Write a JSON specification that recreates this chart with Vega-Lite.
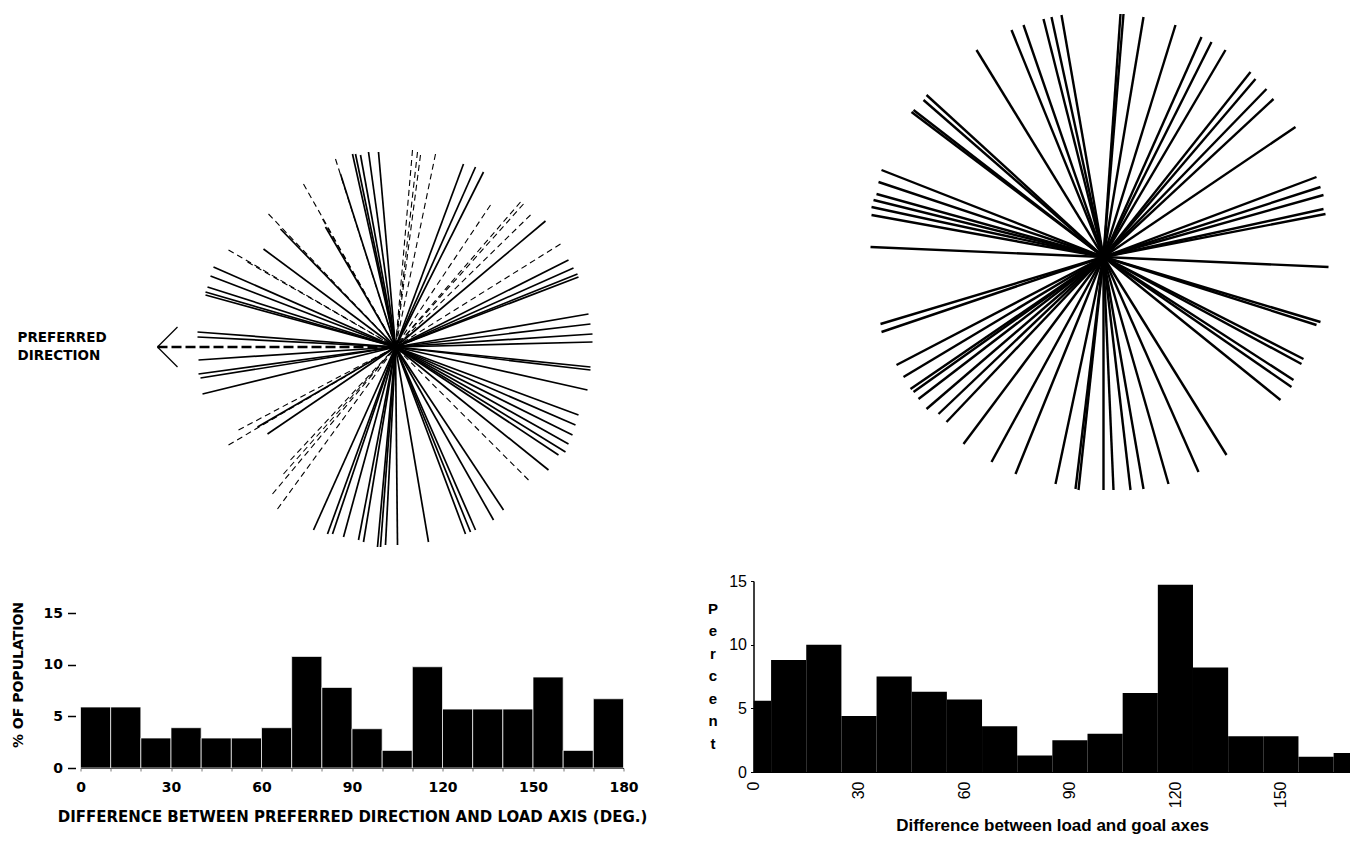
{
  "$schema": "https://vega.github.io/schema/vega-lite/v6.json",
  "autosize": {"type": "pad"},
  "padding": {"left": 10.5, "top": 0, "right": 0, "bottom": 0},
  "background": "white",
  "config": {"view": {"stroke": null}},
  "datasets": {
    "leftSolid": [
      {"dx": -43, "dy": 193}, {"dx": -40, "dy": 193}, {"dx": -35, "dy": 192}, {"dx": -27, "dy": 195}, {"dx": -17, "dy": 195},
      {"dx": -70, "dy": 120}, {"dx": -115, "dy": 118}, {"dx": -132, "dy": 98}, {"dx": -182, "dy": 80}, {"dx": -185, "dy": 71},
      {"dx": -188, "dy": 60}, {"dx": -190, "dy": 55}, {"dx": -190, "dy": 52}, {"dx": -198, "dy": 15}, {"dx": -198, "dy": 10},
      {"dx": -197, "dy": -13}, {"dx": -197, "dy": -27}, {"dx": -195, "dy": -31}, {"dx": -193, "dy": -47}, {"dx": -138, "dy": -80},
      {"dx": -128, "dy": -87}, {"dx": -82, "dy": -183}, {"dx": -68, "dy": -187}, {"dx": -63, "dy": -187}, {"dx": -52, "dy": -190},
      {"dx": -37, "dy": -193}, {"dx": -32, "dy": -195}, {"dx": -18, "dy": -200}, {"dx": -15, "dy": -200}, {"dx": -10, "dy": -198},
      {"dx": 2, "dy": -198}, {"dx": 33, "dy": -195}, {"dx": 70, "dy": -187}, {"dx": 75, "dy": -185}, {"dx": 80, "dy": -183},
      {"dx": 98, "dy": -173}, {"dx": 108, "dy": -163}, {"dx": 153, "dy": -123}, {"dx": 163, "dy": -108}, {"dx": 170, "dy": -105},
      {"dx": 173, "dy": -97}, {"dx": 177, "dy": -88}, {"dx": 180, "dy": -78}, {"dx": 183, "dy": -68}, {"dx": 192, "dy": -43},
      {"dx": 195, "dy": -23}, {"dx": 195, "dy": -20}, {"dx": 197, "dy": 5}, {"dx": 197, "dy": 13}, {"dx": 195, "dy": 23},
      {"dx": 193, "dy": 33}, {"dx": 183, "dy": 70}, {"dx": 182, "dy": 73}, {"dx": 178, "dy": 79}, {"dx": 173, "dy": 87},
      {"dx": 150, "dy": 126}, {"dx": 88, "dy": 175}, {"dx": 80, "dy": 180}, {"dx": 68, "dy": 183}, {"dx": -55, "dy": 173}
    ],
    "leftDashed": [
      {"dx": 17, "dy": 197}, {"dx": 22, "dy": 195}, {"dx": 40, "dy": 193}, {"dx": 25, "dy": 192}, {"dx": -60, "dy": 188},
      {"dx": -92, "dy": 163}, {"dx": -73, "dy": 128}, {"dx": -127, "dy": 133}, {"dx": -148, "dy": 85}, {"dx": -167, "dy": 97},
      {"dx": 125, "dy": 145}, {"dx": 128, "dy": 143}, {"dx": 95, "dy": 142}, {"dx": 165, "dy": 103}, {"dx": 135, "dy": 132},
      {"dx": -157, "dy": -83}, {"dx": -167, "dy": -98}, {"dx": -118, "dy": -162}, {"dx": -123, "dy": -147}, {"dx": -105, "dy": -113},
      {"dx": 133, "dy": -133}, {"dx": -112, "dy": -127}
    ],
    "arrowShaft": [{"dx": -238, "dy": 0, "dx2": 0, "dy2": 0}],
    "arrowHead": [
      {"dx": -238, "dy": 0, "dx2": -218, "dy2": 20},
      {"dx": -238, "dy": 0, "dx2": -218, "dy2": -20}
    ],
    "arrowLabel": [
      {"dx": -378, "dy": 9, "text": "PREFERRED"},
      {"dx": -378, "dy": -9, "text": "DIRECTION"}
    ],
    "rightRays": [
      {"dx": -127, "dy": 207}, {"dx": -92, "dy": 227}, {"dx": -80, "dy": 232}, {"dx": -60, "dy": 238}, {"dx": -52, "dy": 240},
      {"dx": -42, "dy": 242}, {"dx": 17, "dy": 243}, {"dx": 20, "dy": 243}, {"dx": 40, "dy": 240}, {"dx": 72, "dy": 232},
      {"dx": 98, "dy": 220}, {"dx": 108, "dy": 215}, {"dx": 122, "dy": 207}, {"dx": 147, "dy": 185}, {"dx": 152, "dy": 178},
      {"dx": 163, "dy": 168}, {"dx": 170, "dy": 158}, {"dx": 192, "dy": 130}, {"dx": 213, "dy": 80}, {"dx": 217, "dy": 70},
      {"dx": 220, "dy": 62}, {"dx": 220, "dy": 48}, {"dx": 222, "dy": 43}, {"dx": 225, "dy": -10}, {"dx": 217, "dy": -65},
      {"dx": 213, "dy": -68}, {"dx": 200, "dy": -102}, {"dx": 198, "dy": -107}, {"dx": 190, "dy": -123}, {"dx": 188, "dy": -130},
      {"dx": 177, "dy": -143}, {"dx": 123, "dy": -198}, {"dx": 95, "dy": -215}, {"dx": 65, "dy": -227}, {"dx": 40, "dy": -232},
      {"dx": 27, "dy": -233}, {"dx": 10, "dy": -233}, {"dx": 0, "dy": -233}, {"dx": -25, "dy": -233}, {"dx": -28, "dy": -232},
      {"dx": -48, "dy": -227}, {"dx": -88, "dy": -217}, {"dx": -112, "dy": -205}, {"dx": -140, "dy": -187}, {"dx": -157, "dy": -165},
      {"dx": -165, "dy": -157}, {"dx": -177, "dy": -152}, {"dx": -185, "dy": -142}, {"dx": -190, "dy": -135}, {"dx": -193, "dy": -132},
      {"dx": -200, "dy": -120}, {"dx": -207, "dy": -108}, {"dx": -223, "dy": -67}, {"dx": -222, "dy": -75}, {"dx": -233, "dy": 10},
      {"dx": -232, "dy": 42}, {"dx": -232, "dy": 50}, {"dx": -230, "dy": 57}, {"dx": -227, "dy": 63}, {"dx": -225, "dy": 75},
      {"dx": -222, "dy": 87}, {"dx": -192, "dy": 145}, {"dx": -190, "dy": 147}, {"dx": -180, "dy": 157}, {"dx": -177, "dy": 162}
    ],
    "leftHist": [
      {"start": 0, "end": 10, "pct": 5.9}, {"start": 10, "end": 20, "pct": 5.9}, {"start": 20, "end": 30, "pct": 2.9},
      {"start": 30, "end": 40, "pct": 3.9}, {"start": 40, "end": 50, "pct": 2.9}, {"start": 50, "end": 60, "pct": 2.9},
      {"start": 60, "end": 70, "pct": 3.9}, {"start": 70, "end": 80, "pct": 10.8}, {"start": 80, "end": 90, "pct": 7.8},
      {"start": 90, "end": 100, "pct": 3.8}, {"start": 100, "end": 110, "pct": 1.7}, {"start": 110, "end": 120, "pct": 9.8},
      {"start": 120, "end": 130, "pct": 5.7}, {"start": 130, "end": 140, "pct": 5.7}, {"start": 140, "end": 150, "pct": 5.7},
      {"start": 150, "end": 160, "pct": 8.8}, {"start": 160, "end": 170, "pct": 1.7}, {"start": 170, "end": 180, "pct": 6.7}
    ],
    "rightHist": [
      {"start": 0, "end": 5, "pct": 5.6}, {"start": 5, "end": 15, "pct": 8.8}, {"start": 15, "end": 25, "pct": 10.0},
      {"start": 25, "end": 35, "pct": 4.4}, {"start": 35, "end": 45, "pct": 7.5}, {"start": 45, "end": 55, "pct": 6.3},
      {"start": 55, "end": 65, "pct": 5.7}, {"start": 65, "end": 75, "pct": 3.6}, {"start": 75, "end": 85, "pct": 1.3},
      {"start": 85, "end": 95, "pct": 2.5}, {"start": 95, "end": 105, "pct": 3.0}, {"start": 105, "end": 115, "pct": 6.2},
      {"start": 115, "end": 125, "pct": 14.7}, {"start": 125, "end": 135, "pct": 8.2}, {"start": 135, "end": 145, "pct": 2.8},
      {"start": 145, "end": 155, "pct": 2.8}, {"start": 155, "end": 165, "pct": 1.2}, {"start": 165, "end": 175, "pct": 1.5}
    ]
  },
  "bounds": "flush",
  "columns": 2,
  "spacing": {"row": 11, "column": 130},
  "concat": [
    {
      "width": 543,
      "height": 570,
      "layer": [
        {
          "data": {"name": "leftDashed"},
          "mark": {"type": "rule", "color": "black", "strokeWidth": 1.1, "strokeDash": [6, 4]},
          "encoding": {
            "x": {"field": "dx", "type": "quantitative", "scale": {"domain": [-315, 228], "nice": false, "zero": false}, "axis": null},
            "y": {"field": "dy", "type": "quantitative", "scale": {"domain": [-223, 347], "nice": false, "zero": false}, "axis": null},
            "x2": {"datum": 0},
            "y2": {"datum": 0}
          }
        },
        {
          "data": {"name": "leftSolid"},
          "mark": {"type": "rule", "color": "black", "strokeWidth": 1.7},
          "encoding": {
            "x": {"field": "dx", "type": "quantitative", "scale": {"domain": [-315, 228], "nice": false, "zero": false}, "axis": null},
            "y": {"field": "dy", "type": "quantitative", "scale": {"domain": [-223, 347], "nice": false, "zero": false}, "axis": null},
            "x2": {"datum": 0},
            "y2": {"datum": 0}
          }
        },
        {
          "data": {"name": "arrowShaft"},
          "mark": {"type": "rule", "color": "black", "strokeWidth": 2.5, "strokeDash": [10, 4]},
          "encoding": {
            "x": {"field": "dx", "type": "quantitative", "scale": {"domain": [-315, 228], "nice": false, "zero": false}, "axis": null},
            "y": {"field": "dy", "type": "quantitative", "scale": {"domain": [-223, 347], "nice": false, "zero": false}, "axis": null},
            "x2": {"field": "dx2"},
            "y2": {"field": "dy2"}
          }
        },
        {
          "data": {"name": "arrowHead"},
          "mark": {"type": "rule", "color": "black", "strokeWidth": 1.3},
          "encoding": {
            "x": {"field": "dx", "type": "quantitative", "scale": {"domain": [-315, 228], "nice": false, "zero": false}, "axis": null},
            "y": {"field": "dy", "type": "quantitative", "scale": {"domain": [-223, 347], "nice": false, "zero": false}, "axis": null},
            "x2": {"field": "dx2"},
            "y2": {"field": "dy2"}
          }
        },
        {
          "data": {"name": "arrowLabel"},
          "mark": {"type": "text", "align": "left", "baseline": "middle", "font": "DejaVu Sans", "fontWeight": "bold", "fontSize": 13.5, "color": "black"},
          "encoding": {
            "x": {"field": "dx", "type": "quantitative", "scale": {"domain": [-315, 228], "nice": false, "zero": false}, "axis": null},
            "y": {"field": "dy", "type": "quantitative", "scale": {"domain": [-223, 347], "nice": false, "zero": false}, "axis": null},
            "text": {"field": "text"}
          }
        }
      ]
    },
    {
      "width": 597,
      "height": 570,
      "data": {"name": "rightRays"},
      "mark": {"type": "rule", "color": "black", "strokeWidth": 2.4},
      "encoding": {
        "x": {"field": "dx", "type": "quantitative", "scale": {"domain": [-350, 247], "nice": false, "zero": false}, "axis": null},
        "y": {"field": "dy", "type": "quantitative", "scale": {"domain": [-313, 257], "nice": false, "zero": false}, "axis": null},
        "x2": {"datum": 0},
        "y2": {"datum": 0}
      }
    },
    {
      "width": 543,
      "height": 187,
      "data": {"name": "leftHist"},
      "mark": {"type": "rect", "color": "black", "stroke": "white", "strokeWidth": 0.7},
      "encoding": {
        "x": {
          "field": "start", "type": "quantitative",
          "scale": {"domain": [0, 180], "nice": false, "zero": false},
          "axis": {
            "values": [0, 10, 20, 30, 40, 50, 60, 70, 80, 90, 100, 110, 120, 130, 140, 150, 160, 170, 180],
            "labelExpr": "datum.value % 30 === 0 ? datum.label : ''",
            "title": "DIFFERENCE BETWEEN PREFERRED DIRECTION AND LOAD AXIS (DEG.)",
            "grid": false, "domain": true, "domainColor": "black", "domainWidth": 1,
            "ticks": true, "tickSize": 3, "tickColor": "#777777",
            "labelFont": "DejaVu Sans", "labelFontWeight": "bold", "labelFontSize": 14, "labelColor": "black",
            "labelPadding": 9, "labelFlush": false, "labelOverlap": false,
            "titleFont": "DejaVu Sans", "titleFontWeight": "bold", "titleFontSize": 15, "titleColor": "black",
            "titlePadding": 15
          }
        },
        "x2": {"field": "end"},
        "y": {
          "field": "pct", "type": "quantitative",
          "scale": {"domain": [0, 18.1], "nice": false},
          "axis": {
            "values": [0, 5, 10, 15],
            "title": "% OF POPULATION",
            "grid": false, "domain": false,
            "ticks": true, "tickSize": 8, "tickWidth": 1.5, "tickColor": "black", "offset": 5,
            "labelFont": "DejaVu Sans", "labelFontWeight": "bold", "labelFontSize": 14, "labelColor": "black",
            "labelPadding": 5,
            "titleFont": "DejaVu Sans", "titleFontWeight": "bold", "titleFontSize": 14, "titleColor": "black",
            "titlePadding": 18
          }
        },
        "y2": {"datum": 0}
      }
    },
    {
      "width": 597,
      "height": 191,
      "data": {"name": "rightHist"},
      "mark": {"type": "rect", "color": "black", "clip": true},
      "encoding": {
        "x": {
          "field": "start", "type": "quantitative",
          "scale": {"domain": [0, 169.8], "nice": false, "zero": false},
          "axis": {
            "values": [0, 30, 60, 90, 120, 150],
            "title": "Difference between load and goal axes",
            "grid": false, "domain": true, "domainColor": "black", "domainWidth": 1,
            "ticks": false,
            "labelAngle": -90,
            "labelFont": "Liberation Sans", "labelFontSize": 16, "labelColor": "black",
            "labelPadding": 9, "labelFlush": false,
            "titleFont": "Liberation Sans", "titleFontWeight": "bold", "titleFontSize": 17, "titleColor": "black",
            "titlePadding": 10
          }
        },
        "x2": {"field": "end"},
        "y": {
          "field": "pct", "type": "quantitative",
          "scale": {"domain": [0, 15], "nice": false},
          "axis": {
            "values": [0, 5, 10, 15],
            "title": ["P", "e", "r", "c", "e", "n", "t"],
            "titleAngle": 0, "titleAlign": "center", "titleBaseline": "middle",
            "titleX": -41, "titleY": 27,
            "titleLineHeight": 22.5,
            "grid": false, "domain": true, "domainColor": "black", "domainWidth": 1.5,
            "ticks": true, "tickSize": 3, "tickColor": "black",
            "labelFont": "Liberation Sans", "labelFontSize": 16, "labelColor": "black",
            "labelPadding": 4,
            "titleFont": "Liberation Sans", "titleFontWeight": "bold", "titleFontSize": 15, "titleColor": "black"
          }
        },
        "y2": {"datum": 0}
      }
    }
  ]
}
